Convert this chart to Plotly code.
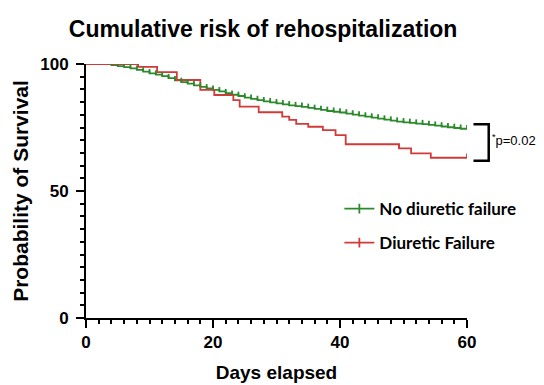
import plotly.graph_objects as go

# ---- data ----
green_days = list(range(0, 61))
green_surv = [100, 100, 100, 100, 99.6, 99.2, 98.8, 98.3, 97.7, 97.0,
              96.3, 95.8, 95.2, 94.4, 93.6, 92.9, 92.3, 91.6, 91.0, 90.4,
              89.8, 89.2, 88.5, 87.9, 87.4, 86.8, 86.3, 85.8, 85.3, 84.9,
              84.5, 84.1, 83.7, 83.4, 83.1, 82.7, 82.3, 81.9, 81.5, 81.2,
              80.9, 80.5, 80.1, 79.7, 79.3, 78.9, 78.5, 78.1, 77.7, 77.3,
              77.0, 76.8, 76.5, 76.3, 76.0, 75.7, 75.4, 75.1, 74.8, 74.5, 74.3]
green_censor_days = list(range(2, 61))

red_days = [0, 8.2, 11.2, 14.3, 18.0, 20.2, 23.2, 24.2, 27.2, 30.9, 32.0,
            33.1, 35.0, 37.3, 39.3, 40.9, 49.3, 51.2, 54.3, 60]
red_surv = [100, 98.9, 96.8, 93.7, 89.8, 87.8, 85.8, 83.2, 81.0, 79.3, 78.0,
            76.4, 75.3, 74.0, 72.0, 68.4, 66.8, 64.8, 63.1, 63.1]
red_censor_days = [8.2, 49.3, 60]

series_names = ["No diuretic failure", "Diuretic Failure"]
x_ticks = [0, 20, 40, 60]
y_ticks = [0, 50, 100]
p_label = "<sup>*</sup>p=0.02"
title_text = "Cumulative risk of rehospitalization"
x_title = "Days elapsed"
y_title = "Probability of Survival"

GREEN = "#2b8a2b"
RED = "#d23a3a"


def value_at(days, surv, t):
    v = surv[0]
    for d, s in zip(days, surv):
        if d <= t:
            v = s
    return v


fig = go.Figure()

# step curves
fig.add_trace(go.Scatter(x=green_days, y=green_surv, mode="lines",
                         line=dict(shape="hv", color=GREEN, width=1.8),
                         showlegend=False, cliponaxis=False, hoverinfo="skip"))
fig.add_trace(go.Scatter(x=red_days, y=red_surv, mode="lines",
                         line=dict(shape="hv", color=RED, width=1.8),
                         showlegend=False, cliponaxis=False, hoverinfo="skip"))

# censor ticks (upward) via one-sided error bars
for days, surv, cdays, col in [(green_days, green_surv, green_censor_days, GREEN),
                               (red_days, red_surv, red_censor_days, RED)]:
    cy = [value_at(days, surv, t) for t in cdays]
    fig.add_trace(go.Scatter(x=cdays, y=cy, mode="markers",
                             marker=dict(size=1, color=col, opacity=0),
                             error_y=dict(type="constant", value=1.7, valueminus=0,
                                          symmetric=False, width=0, thickness=1.8,
                                          color=col),
                             showlegend=False, cliponaxis=False, hoverinfo="skip"))

# legend entries
for name, col, grp in [(series_names[0], GREEN, "g"), (series_names[1], RED, "r")]:
    fig.add_trace(go.Scatter(x=[None], y=[None], mode="lines+markers", name=name,
                             legendgroup=grp,
                             line=dict(color=col, width=1.8),
                             marker=dict(symbol="line-ns-open", size=7,
                                         line=dict(color=col, width=1.8))))

axis_common = dict(showline=True, linecolor="black", linewidth=2,
                   ticks="outside", ticklen=8, tickwidth=2, tickcolor="black",
                   showgrid=False, zeroline=False, automargin=False,
                   tickfont=dict(family="Liberation Sans, Arial", size=17,
                                 color="black", weight="bold"))

# page body has an 8px margin: figure drawn 8px smaller and shifted
fig.update_layout(
    width=536, height=377,
    margin=dict(l=78, r=77, t=56, b=67),
    paper_bgcolor="white", plot_bgcolor="white",
    title=dict(text=title_text, x=0.476, xanchor="center", y=0.945, yanchor="middle",
               font=dict(family="Liberation Sans, Arial", size=23, color="black",
                         weight="bold")),
    xaxis=dict(range=[0, 60], tickvals=x_ticks,
               minor=dict(dtick=2, ticks="outside", ticklen=4, tickwidth=2,
                          tickcolor="black"),
               title=dict(text=x_title, standoff=14,
                          font=dict(family="Liberation Sans, Arial", size=19,
                                    color="black", weight="bold")),
               **axis_common),
    yaxis=dict(range=[0, 100], tickvals=y_ticks, ticklabelstandoff=4,
               minor=dict(dtick=5, ticks="outside", ticklen=4, tickwidth=2,
                          tickcolor="black"),
               title=dict(text=y_title, standoff=6,
                          font=dict(family="Liberation Sans, Arial", size=21,
                                    color="black", weight="bold")),
               **axis_common),
    legend=dict(x=0.665, y=0.5, xanchor="left", yanchor="top",
                bgcolor="rgba(0,0,0,0)", tracegroupgap=9,
                font=dict(family="Lato, Noto Sans", size=17, color="black",
                          weight="bold")),
    showlegend=True,
)

# significance bracket
br_top = green_surv[-1] + 2.0
br_bot = red_surv[-1] - 1.2
fig.add_shape(type="path", xref="paper", yref="y",
              path=f"M 1.017 {br_top} L 1.057 {br_top} L 1.057 {br_bot} L 1.017 {br_bot}",
              line=dict(color="black", width=2.5))
fig.add_annotation(text=p_label, xref="paper", yref="y", x=1.06,
                   y=(br_top + br_bot) / 2 + 1, xanchor="left", yanchor="middle",
                   showarrow=False,
                   font=dict(family="Liberation Sans, Arial", size=13, color="black"))

fig.write_html("out.html")
